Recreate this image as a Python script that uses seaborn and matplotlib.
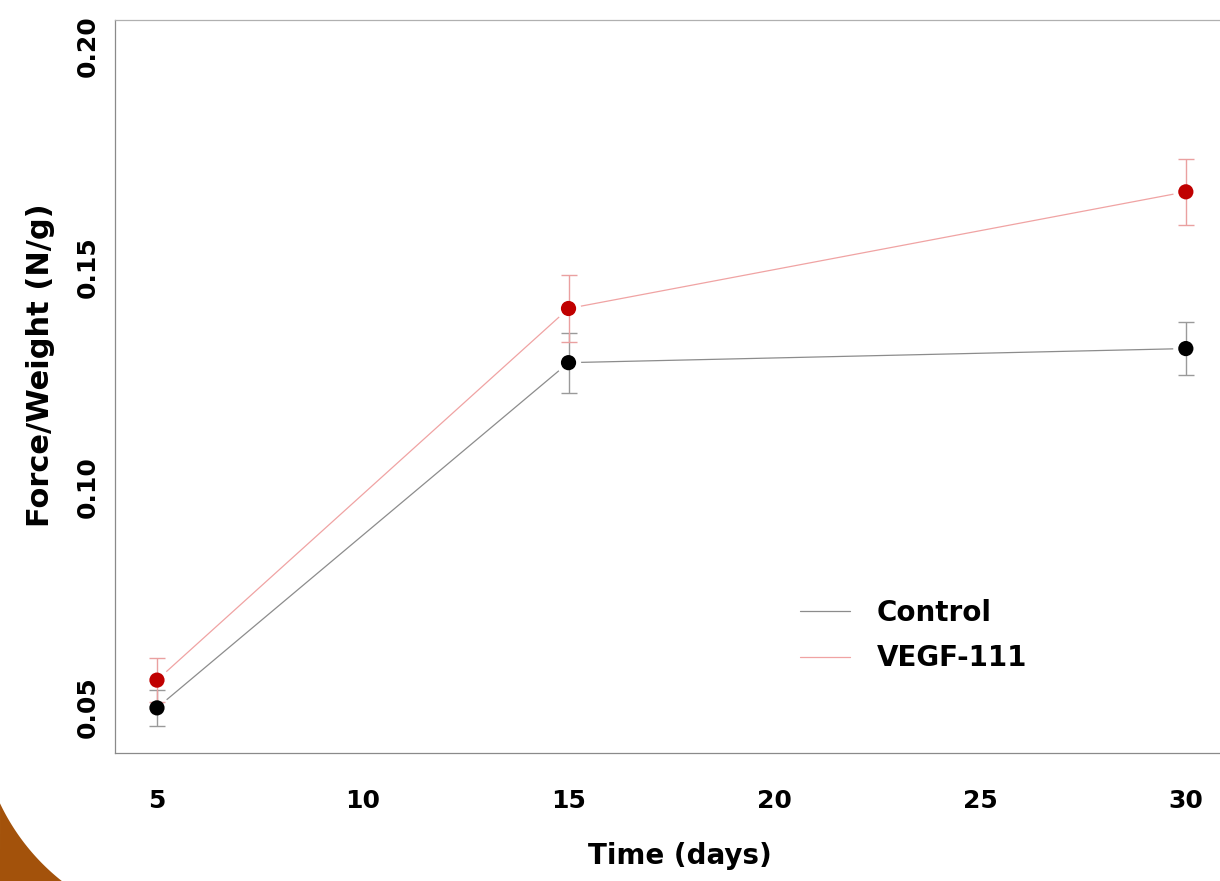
import matplotlib
matplotlib.use("Agg")
import matplotlib.pyplot as plt
import numpy as np
import pandas as pd
import seaborn as sns
from matplotlib.patches import Polygon

# values
days = [5, 15, 30]
groups = ["Control", "VEGF-111"]
control_mean = [0.0498, 0.1282, 0.1314]
control_err = [0.0041, 0.0068, 0.0061]
vegf_mean = [0.0561, 0.1405, 0.1670]
vegf_err = [0.0050, 0.0077, 0.0075]
y_ticks = [0.05, 0.10, 0.15, 0.20]
x_ticks = [5, 10, 15, 20, 25, 30]

df = pd.DataFrame({
    "day": days * 2,
    "force": control_mean + vegf_mean,
    "err": control_err + vegf_err,
    "group": [groups[0]] * 3 + [groups[1]] * 3,
})

sns.set_style("white")
plt.rcParams["font.family"] = ["DejaVu Sans"]
plt.rcParams["font.weight"] = "bold"
plt.rcParams["text.color"] = "black"
plt.rcParams["axes.labelcolor"] = "black"
plt.rcParams["axes.labelweight"] = "bold"
plt.rcParams["xtick.color"] = "black"
plt.rcParams["ytick.color"] = "black"

line_cols = {"Control": "#8c8c8c", "VEGF-111": "#f0a3a3"}
bar_cols = {"Control": "#9a9a9a", "VEGF-111": "#eaa0a0"}
dot_cols = {"Control": "#000000", "VEGF-111": "#c00000"}
spine_col = "#8a8a8a"

fig = plt.figure(figsize=(12.2, 8.81), dpi=100)
ax = fig.add_axes([115 / 1220, 128 / 881, 1105 / 1220, 733 / 881])

# brown slide decoration in the lower-left corner
cx, cy, r = 197, 710, 218
a0 = np.arctan2(803.4 - cy, 0 - cx)
a1 = np.arctan2(881 - cy, 61.8 - cx)
ang = np.linspace(a0, a1, 60)
px = cx + r * np.cos(ang)
py = cy + r * np.sin(ang)
pts = [(x / 1220, 1 - y / 881) for x, y in zip(px, py)] + [(0, 0)]
fig.patches.append(Polygon(pts, closed=True, transform=fig.transFigure,
                           facecolor="#a3520b", edgecolor="none", zorder=0))

sns.lineplot(data=df, x="day", y="force", hue="group", palette=line_cols,
             linewidth=0.9, ax=ax, zorder=2, legend=True)

# white halo so the joining lines stop short of the points
sns.scatterplot(data=df, x="day", y="force", color="white", s=330,
                edgecolor="none", ax=ax, zorder=3, legend=False)

for g in groups:
    sub = df[df["group"] == g]
    ax.errorbar(sub["day"], sub["force"], yerr=sub["err"], fmt="none",
                ecolor=bar_cols[g], elinewidth=1.0, capsize=6, capthick=1.0,
                zorder=4)

sns.scatterplot(data=df, x="day", y="force", hue="group", palette=dot_cols,
                s=120, edgecolor="none", ax=ax, zorder=5, legend=False)

ax.set_xlim(3.98, 30.83)
ax.set_ylim(0.03955, 0.20602)
ax.set_xticks(x_ticks)
ax.set_xticklabels([str(t) for t in x_ticks])
ax.set_yticks(y_ticks)
ax.set_yticklabels([f"{t:.2f}" for t in y_ticks], rotation=90, va="center")

ax.tick_params(axis="x", length=10, width=0.8, color=spine_col, labelsize=18, pad=16)
ax.tick_params(axis="y", length=10, width=0.8, color=spine_col, labelsize=18, pad=1)

for side in ["left", "bottom", "top"]:
    ax.spines[side].set_color(spine_col)
    ax.spines[side].set_linewidth(0.9)
ax.spines["top"].set_color("#b0b0b0")
ax.spines["right"].set_visible(False)

ax.set_xlabel("Time (days)", fontsize=20)
ax.set_ylabel("Force/Weight (N/g)", fontsize=22)
ax.xaxis.set_label_coords(0.511, -0.121)
ax.yaxis.set_label_coords(-0.054, 0.529)

handles, labels = ax.get_legend_handles_labels()
ax.legend(handles, labels, frameon=False, fontsize=20, loc="upper left",
          bbox_to_anchor=(800 / 1220, 1 - 599 / 881), bbox_transform=fig.transFigure,
          handlelength=1.8, handletextpad=0.95, labelspacing=0.62,
          borderpad=0, borderaxespad=0)

fig.savefig("out.png", dpi=100, facecolor="white")
